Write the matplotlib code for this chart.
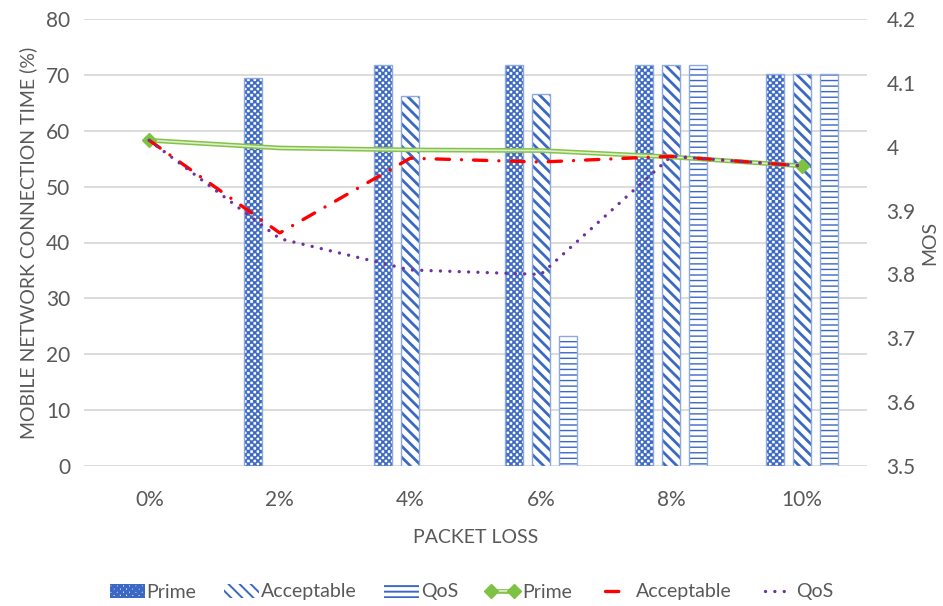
import numpy as np
import matplotlib
matplotlib.use('Agg')
import matplotlib.pyplot as plt
import matplotlib.hatch as mhatch
from matplotlib.path import Path

# Данные
categories = ['0%', '2%', '4%', '6%', '8%', '10%']
prime_time = [0, 69.5, 71.7, 71.7, 71.7, 70.1]
acceptable_time = [0, 0, 66.2, 66.6, 71.7, 70.1]
qos_time = [0, 0, 0, 23.3, 71.7, 70.1]

prime_mos = [4.01, 3.998, 3.995, 3.994, 3.984, 3.97]
acceptable_mos = [4.01, 3.865, 3.982, 3.976, 3.985, 3.97]
qos_mos = [4.01, 3.856, 3.807, 3.80, 3.985, 3.97]

left_ticks = np.arange(0, 81, 10)
right_ticks = [3.5, 3.6, 3.7, 3.8, 3.9, 4.0, 4.1, 4.2]

BLUE = '#3B68C2'
EDGE = '#8EA9DB'
GREY = '#595959'
CHECK_LW = 0.35


# Шахматная штриховка вместо звёздочек ('*')
class CheckerHatch(mhatch.HatchPatternBase):
    def __init__(self, hatch, density):
        self.n = hatch.count('*') * 16
        self.num_vertices = (self.n * self.n // 2) * 5

    def set_vertices_and_codes(self, vertices, codes):
        n = self.n
        cell = 1.0 / n
        k = 0
        for i in range(n):
            for j in range(n):
                if (i + j) % 2:
                    continue
                x0, y0 = i * cell, j * cell
                x1, y1 = (i + 1) * cell, (j + 1) * cell
                vertices[k:k + 5] = [[x0, y0], [x1, y0], [x1, y1], [x0, y1], [x0, y0]]
                codes[k:k + 5] = [Path.MOVETO, Path.LINETO, Path.LINETO,
                                  Path.LINETO, Path.CLOSEPOLY]
                k += 5


mhatch._hatch_types = [t for t in mhatch._hatch_types if t is not mhatch.Stars] + [CheckerHatch]

plt.rcParams['font.family'] = ['Lato', 'DejaVu Sans']
plt.rcParams['hatch.linewidth'] = 1.4

fig = plt.figure(figsize=(9.43, 6.06), dpi=100)
ax = fig.add_axes([84 / 943, 140 / 606, 783 / 943, 447 / 606])

x = np.arange(len(categories))
w = 0.14
off = 0.207

series = [(prime_time, -off, '**', 'Prime', CHECK_LW),
          (acceptable_time, 0, '\\\\\\', 'Acceptable', 2.0),
          (qos_time, off, '---', 'QoS', 1.0)]

bar_handles = []
for vals, dx, hatch, label, hlw in series:
    with plt.rc_context({'hatch.linewidth': hlw}):
        bars = ax.bar(x + dx, vals, w, color='white', edgecolor=BLUE,
                      linewidth=0, hatch=hatch, label=label, zorder=2)
    for b in bars:
        if hasattr(b, 'set_hatch_linewidth'):
            b.set_hatch_linewidth(hlw)
    ax.bar(x + dx, vals, w, fill=False, edgecolor=EDGE,
           linewidth=[1.0 if v > 0 else 0 for v in vals], zorder=3)
    bar_handles.append(bars)

ax.set_xlim(-0.5, len(categories) - 0.5)
ax.set_ylim(0, 80)
ax.set_yticks(left_ticks)
ax.set_xticks(x)
ax.set_xticklabels(categories)
ax.yaxis.grid(True, color='#D9D9D9', linewidth=1.3)
ax.set_axisbelow(True)
for s in ax.spines.values():
    s.set_visible(False)
ax.tick_params(length=0, labelsize=15, colors=GREY, pad=10)
ax.tick_params(axis='x', pad=17)
ax.set_ylabel('MOBILE NETWORK CONNECTION TIME (%)', fontsize=14, color=GREY, labelpad=6)
ax.set_xlabel('PACKET LOSS', fontsize=14, color=GREY, labelpad=14)

# Правая ось: MOS
ax2 = ax.twinx()
ax2.set_ylim(3.5, 4.2)
ax2.set_yticks(right_ticks)
ax2.set_yticklabels(['{:g}'.format(t) for t in right_ticks])
for s in ax2.spines.values():
    s.set_visible(False)
ax2.tick_params(length=0, labelsize=15, colors=GREY, pad=14)
ax2.set_ylabel('MOS', fontsize=14, color=GREY, labelpad=4)

g_outer, = ax2.plot(x, prime_mos, color='#86C24A', linewidth=3.4, zorder=3)
g_inner, = ax2.plot(x, prime_mos, color='#DCEFCB', linewidth=1.2, zorder=3)
g_mark, = ax2.plot([x[0], x[-1]], [prime_mos[0], prime_mos[-1]], linestyle='none',
                   marker='D', markersize=7, color='#7DC242', zorder=4)
r_line, = ax2.plot(x, acceptable_mos, color='#FF0000', linewidth=2.4,
                   linestyle=(0, (4.0, 3.6, 0.01, 3.6)), dash_capstyle='round', zorder=5)
q_line, = ax2.plot(x, qos_mos, color='#7030A0', linewidth=2.4,
                   linestyle=(0, (0.01, 2.8)), dash_capstyle='round', zorder=6)

handles = bar_handles + [(g_outer, g_inner, g_mark), r_line, q_line]
labels = ['Prime', 'Acceptable', 'QoS', 'Prime', 'Acceptable', 'QoS']
fig.legend(handles, labels, loc='center', bbox_to_anchor=(0.5, 1 - 592 / 606),
           ncol=6, frameon=False, fontsize=14, handletextpad=0.1,
           columnspacing=1.4, handlelength=1.8, numpoints=2, labelcolor=GREY)

fig.savefig('out.png', dpi=100)
